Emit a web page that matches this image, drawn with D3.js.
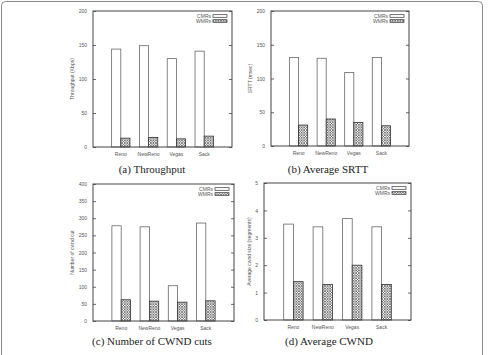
<!DOCTYPE html>
<html>
<head>
<meta charset="utf-8">
<script src="https://cdn.jsdelivr.net/npm/d3@7"></script>
<style>
  html, body { margin: 0; padding: 0; background: #fff; }
  svg { display: block; }
</style>
</head>
<body>
<div id="chart"></div>
<script>
/* ── Data ─────────────────────────────────────────────────────── */

const variants = ['Reno', 'NewReno', 'Vegas', 'Sack'];
const seriesNames = ['CMRs', 'WMRs'];

const throughputCMR = [144, 149, 130, 141];
const throughputWMR = [13, 14, 12, 16];
const srttCMR = [131, 130, 109, 131];
const srttWMR = [31, 40, 35, 30];
const cutsCMR = [278, 275, 103, 286];
const cutsWMR = [62, 58, 55, 59];
const cwndCMR = [3.5, 3.4, 3.7, 3.4];
const cwndWMR = [1.4, 1.3, 2.0, 1.3];

const throughputTicks = [0, 50, 100, 150, 200];
const srttTicks = [0, 50, 100, 150, 200];
const cutsTicks = [0, 50, 100, 150, 200, 250, 300, 350, 400];
const cwndTicks = [0, 1, 2, 3, 4, 5];

/* ── Panel layout ─────────────────────────────────────────────── */

const panels = [
  { cmr: throughputCMR, wmr: throughputWMR, ticks: throughputTicks, max: 200,
    ylabel: 'Throughput (Kbps)', tag: '(a)', caption: 'Throughput',
    box: [93, 11, 232, 147], ylabelX: 74, capX: 152, capY: 173 },
  { cmr: srttCMR, wmr: srttWMR, ticks: srttTicks, max: 200,
    ylabel: 'SRTT (msec)', tag: '(b)', caption: 'Average SRTT',
    box: [271, 11, 409, 146], ylabelX: 252, capX: 328, capY: 173 },
  { cmr: cutsCMR, wmr: cutsWMR, ticks: cutsTicks, max: 400,
    ylabel: 'Number of cwnd cut', tag: '(c)', caption: 'Number of CWND cuts',
    box: [93, 184, 234, 321], ylabelX: 74, capX: 152, capY: 345 },
  { cmr: cwndCMR, wmr: cwndWMR, ticks: cwndTicks, max: 5,
    ylabel: 'Average cwnd size (segments)', tag: '(d)', caption: 'Average CWND',
    box: [264, 183, 411, 320], ylabelX: 251, capX: 329, capY: 345 },
];

const W = 489, H = 355;
const AXIS = '#444';
const BAR = '#666';
const TEXT = '#555';
const SANS = 'Helvetica, "Liberation Sans", Arial, sans-serif';
const SERIF = '"Liberation Serif", "Times New Roman", serif';

const svg = d3.select('#chart').append('svg')
  .attr('width', W)
  .attr('height', H);

// Crosshatch fill for the WMRs bars
const defs = svg.append('defs');
const pat = defs.append('pattern')
  .attr('id', 'hatch')
  .attr('patternUnits', 'userSpaceOnUse')
  .attr('width', 2.6)
  .attr('height', 2.6);
pat.append('rect').attr('width', 2.6).attr('height', 2.6).attr('fill', '#fff');
pat.append('path')
  .attr('d', 'M0,0L2.6,2.6M2.6,0L0,2.6')
  .attr('stroke', '#555')
  .attr('stroke-width', 0.7);

// Figure frame
svg.append('rect')
  .attr('x', 1.5).attr('y', 1.5)
  .attr('width', 481).attr('height', 370)
  .attr('rx', 4)
  .attr('fill', 'none')
  .attr('stroke', '#8a8a8a')
  .attr('stroke-width', 1);

/* ── Draw each panel ──────────────────────────────────────────── */

panels.forEach(p => {
  const [x0, y0, x1, y1] = p.box;
  const g = svg.append('g');

  const x = d3.scaleBand()
    .domain(variants)
    .range([x0, x1])
    .paddingInner(0)
    .paddingOuter(0.5);

  const y = d3.scaleLinear()
    .domain([0, p.max])
    .range([y1, y0]);

  const bw = x.step() * 0.33;

  // Bars
  const rows = variants.map((v, i) => ({ v, c: p.cmr[i], w: p.wmr[i] }));
  g.selectAll('rect.cmr')
    .data(rows)
    .join('rect')
    .attr('class', 'cmr')
    .attr('x', d => x(d.v) + x.bandwidth() / 2 - bw)
    .attr('y', d => y(d.c))
    .attr('width', bw)
    .attr('height', d => y(0) - y(d.c))
    .attr('fill', '#fff')
    .attr('stroke', BAR)
    .attr('stroke-width', 0.8);

  g.selectAll('rect.wmr')
    .data(rows)
    .join('rect')
    .attr('class', 'wmr')
    .attr('x', d => x(d.v) + x.bandwidth() / 2)
    .attr('y', d => y(d.w))
    .attr('width', bw)
    .attr('height', d => y(0) - y(d.w))
    .attr('fill', 'url(#hatch)')
    .attr('stroke', '#333')
    .attr('stroke-width', 0.8);

  // Left axis (ticks inward) and mirrored right ticks
  const left = g.append('g')
    .attr('transform', `translate(${x0},0)`)
    .call(d3.axisLeft(y).tickValues(p.ticks).tickSize(-3).tickPadding(6)
      .tickFormat(d3.format('d')));
  const right = g.append('g')
    .attr('transform', `translate(${x1},0)`)
    .call(d3.axisRight(y).tickValues(p.ticks).tickSize(-3).tickFormat(''));
  const bottom = g.append('g')
    .attr('transform', `translate(0,${y1})`)
    .call(d3.axisBottom(x).tickSize(0).tickPadding(5));

  [left, right, bottom].forEach(a => {
    a.select('.domain').remove();
    a.selectAll('line').attr('stroke', AXIS).attr('stroke-width', 0.8);
    a.selectAll('text')
      .attr('fill', TEXT)
      .attr('font-family', SANS)
      .attr('font-size', 5);
  });

  // Plot frame
  g.append('rect')
    .attr('x', x0).attr('y', y0)
    .attr('width', x1 - x0).attr('height', y1 - y0)
    .attr('fill', 'none')
    .attr('stroke', AXIS)
    .attr('stroke-width', 1);

  // Y label
  g.append('text')
    .attr('transform', `translate(${p.ylabelX},${(y0 + y1) / 2}) rotate(-90)`)
    .attr('text-anchor', 'middle')
    .attr('font-family', SANS)
    .attr('font-size', 5)
    .attr('fill', TEXT)
    .text(p.ylabel);

  // Legend
  const legendFill = ['#fff', 'url(#hatch)'];
  seriesNames.forEach((s, i) => {
    const ly = y0 + 5 + i * 5;
    g.append('text')
      .attr('x', x1 - 21)
      .attr('y', ly + 1.8)
      .attr('text-anchor', 'end')
      .attr('font-family', SANS)
      .attr('font-size', 5)
      .attr('fill', TEXT)
      .text(s);
    g.append('rect')
      .attr('x', x1 - 19).attr('y', ly - 1.3)
      .attr('width', 14).attr('height', 2.6)
      .attr('fill', legendFill[i])
      .attr('stroke', '#333')
      .attr('stroke-width', 0.7);
  });

  // Caption
  const cap = g.append('text')
    .attr('x', p.capX)
    .attr('y', p.capY)
    .attr('text-anchor', 'middle')
    .attr('font-family', SERIF)
    .attr('font-size', 11)
    .attr('fill', '#222');
  cap.append('tspan').text(p.tag + ' ');
  cap.append('tspan').text(p.caption);
});
</script>
</body>
</html>
